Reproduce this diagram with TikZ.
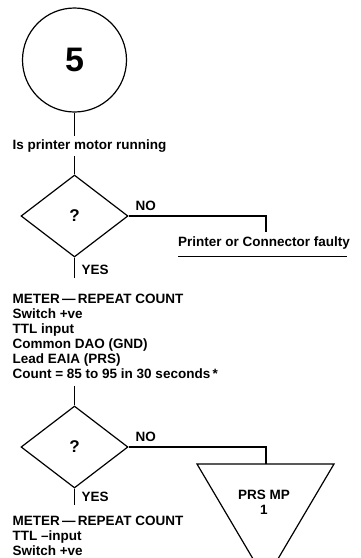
\documentclass[tikz,border=0pt]{standalone}
\usepackage{fontspec}
\setmainfont{Liberation Sans}
\usetikzlibrary{shapes.geometric}
\begin{document}
\begin{tikzpicture}[x=1pt,y=-1pt,line width=1.2pt,
  txt/.style={font=\bfseries\fontsize{13.5}{15}\selectfont,inner sep=0pt,align=left},
  decision/.style={draw,diamond,minimum width=107pt,minimum height=82pt,inner sep=0pt,
    font=\bfseries\fontsize{17}{17}\selectfont},
  flow/.style={line width=1.2pt}]
\useasboundingbox (0,0) rectangle (361,558);
% start circle
\node[draw,circle,minimum size=104pt,inner sep=0pt,font=\bfseries\fontsize{34}{34}\selectfont] (c) at (74.5,60) {5};
\node[txt,anchor=west] (q1) at (12,146) {Is printer motor running};
\coordinate (a1) at (74.5,136);
\coordinate (a2) at (74.5,156);
\draw[flow] (c.south) -- (a1);
% decision 1
\node[decision] (d1) at (74.5,216) {?};
\draw[flow] (a2) -- (d1.north);
\coordinate (n1) at (266,232);
\draw[flow] (d1.east) -| (n1);
\node[txt,anchor=south west] (no1) at (135,211) {NO};
\node[txt,anchor=center] (pf) at (264,243) {Printer or Connector faulty};
\coordinate (u1) at (178,257);
\coordinate (u2) at (347,257);
\draw[line width=1pt,double,double distance=0.8pt] (u1) -- (u2);
\coordinate (y1) at (74.5,278);
\draw[flow] (d1.south) -- (y1);
\node[txt,anchor=west] (yes1) at (81,270) {YES};
% block 1
\node[txt,anchor=north west] (b1) at (12,293) {METER\,---\,REPEAT COUNT\\Switch +ve\\TTL input\\Common DAO (GND)\\Lead EAIA (PRS)\\Count = 85 to 95 in 30 seconds\,*};
\coordinate (a3) at (74.5,386);
% decision 2
\node[decision] (d2) at (74.5,447) {?};
\draw[flow] (a3) -- (d2.north);
\node[txt,anchor=south west] (no2) at (135,442) {NO};
\coordinate (t1) at (266,464);
\draw[flow] (d2.east) -| (t1);
\coordinate (tl) at (197,464);
\coordinate (tr) at (334,464);
\coordinate (tb) at (265.5,580);
\draw[flow] (tl) -- (tr) -- (tb) -- cycle;
\node[txt,align=center] (prs) at (264,502.5) {PRS MP\\1};
\coordinate (y2) at (74.5,505);
\draw[flow] (d2.south) -- (y2);
\node[txt,anchor=west] (yes2) at (81,497) {YES};
% block 2
\node[txt,anchor=north west] (b2) at (12,515) {METER\,---\,REPEAT COUNT\\TTL --input\\Switch +ve};
\end{tikzpicture}
\end{document}
